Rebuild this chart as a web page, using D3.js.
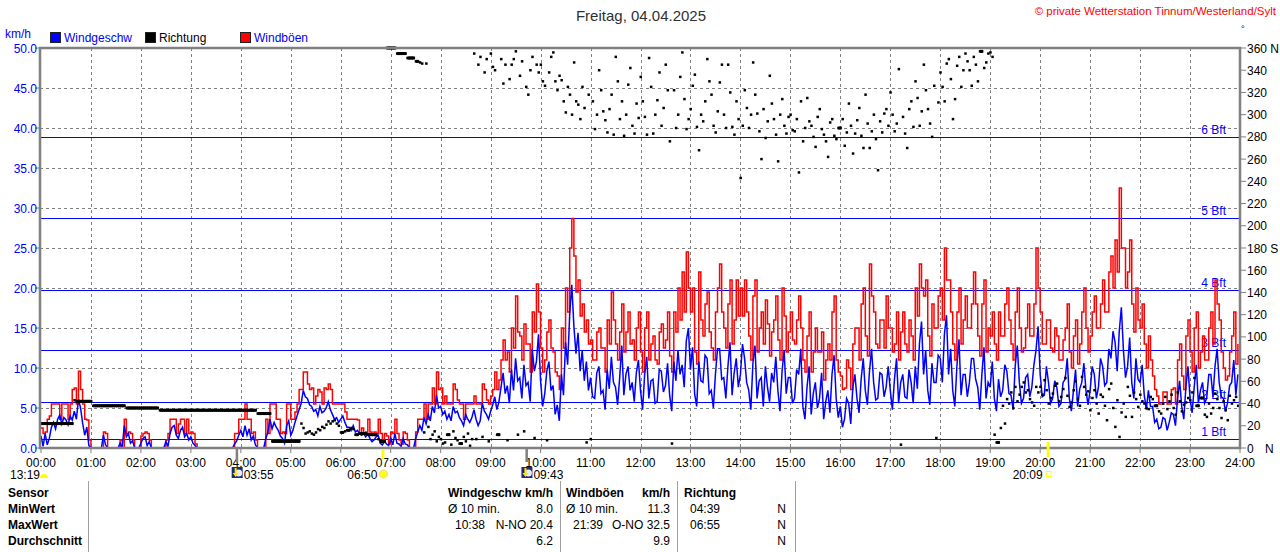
<!DOCTYPE html>
<html>
<head>
<meta charset="utf-8">
<script src="https://cdn.jsdelivr.net/npm/d3@7"></script>
<style>
  body { margin: 0; background: #fff; }
  svg { display: block; font-family: "Liberation Sans", Arial, sans-serif; }
</style>
</head>
<body>
<svg id="chart" width="1280" height="552"></svg>
<script>
// Values, one reading every 2.5 minutes (24 per hour)
var stepMin = 2.5;

var windSpeed = [
  1.5,0.2,1.8,0.4,1.2,2.6,3.2,2.4,3.6,4.1,3.0,3.8,3.5,2.9,4.0,3.5,4.6,3.6,6.1,5.0,3.1,1.6,2.6,0.3,   // 00
  0,0,0,0,0,0,1.6,0.4,0,0,0,0,0,0,0.6,0,2.8,1.4,1.8,0.6,0.9,0,0,0,                                 // 01
  0.6,1.2,1.4,0.3,0.8,0,0,0,0,0,0,0,0.8,0.2,1.8,2.6,2.8,1.6,1.2,2.2,2.6,1.4,1.8,1.0,               // 02
  1.4,0.6,0.3,0,0,0,0,0,0,0,0,0,0,0,0,0,0,0,0,0,0,0.5,0.9,1.6,                                     // 03
  2.2,1.4,2.8,1.6,2.4,1.0,1.5,0.4,0,0,0,0,1.2,2.0,3.6,2.4,3.2,2.6,2.2,1.5,1.2,0.6,2.8,3.4,         // 04
  1.6,2.2,3.2,4.0,4.8,5.6,7.2,6.4,6.2,5.4,5.2,4.6,4.8,4.0,5.2,4.4,4.6,5.0,5.8,4.8,4.2,3.6,3.8,3.2, // 05
  3.6,4.0,3.2,2.6,2.6,2.2,2.8,2.0,2.2,1.8,1.6,1.8,1.4,1.8,1.2,0.8,1.0,1.4,1.6,0.6,0.4,0.8,0.5,0.3, // 06
  1.2,0.4,1.8,0.6,0.5,0.2,1.2,0.5,0.4,0,0,0,1.2,2.0,2.8,2.2,3.8,3.0,4.2,3.4,5.2,4.4,6.6,5.0,       // 07
  5.2,4.2,4.6,3.6,4.2,3.4,5.2,4.4,4.6,3.8,3.4,2.8,4.2,3.6,3.2,3.8,4.8,3.6,2.8,3.4,5.6,4.6,4.2,3.6, // 08
  4.6,5.4,6.4,4.8,5.8,7.6,9.4,6.8,7.8,5.6,9.8,7.2,11.2,8.4,8.8,6.2,10.4,7.8,8.2,5.8,12.4,9.6,10.8,14.2,   // 09
  8.4,5.2,6.8,9.6,10.8,7.2,7.8,4.2,5.4,3.4,9.2,6.6,13.2,10.4,16.8,20.4,15.2,11.8,14.4,9.6,12.2,8.4,10.8,7.2, // 10
  8.8,6.4,6.2,9.4,10.2,6.8,7.2,4.8,9.8,7.4,11.4,8.2,7.6,5.4,8.8,12.8,6.6,9.2,10.2,7.2,8.2,5.8,9.4,11.0,     // 11
  7.2,4.8,9.2,11.4,6.2,8.4,8.6,5.6,5.8,9.8,9.6,7.0,7.8,10.6,6.6,4.6,10.8,8.4,12.2,9.2,10.4,7.6,13.4,15.0,   // 12
  9.8,12.6,6.8,5.2,10.8,8.4,8.2,11.6,11.2,6.8,7.2,5.0,9.2,12.4,12.4,8.6,8.8,6.2,10.2,13.2,6.6,9.4,11.2,7.6, // 13
  9.2,13.0,11.2,8.2,7.2,4.8,10.6,12.8,6.2,8.4,8.8,5.2,10.2,7.6,5.8,9.4,8.2,11.4,7.2,4.6,9.6,12.2,6.8,8.8,   // 14
  8.8,5.6,6.2,9.8,9.2,12.4,5.2,3.6,7.6,10.2,4.2,6.8,8.2,5.0,6.2,9.4,3.6,5.8,7.2,4.4,9.2,11.6,6.2,3.8,      // 15
  5.2,2.6,3.6,6.2,5.6,3.0,7.6,9.2,6.2,4.4,8.6,11.2,7.2,5.4,9.6,12.4,8.2,6.0,6.2,9.4,9.2,6.4,7.6,10.2,      // 16
  7.2,4.8,8.6,11.2,5.6,8.2,9.2,6.4,6.2,9.8,8.2,5.6,10.2,7.4,13.0,15.8,9.2,12.2,7.2,5.4,10.6,8.2,8.2,11.6,  // 17
  11.2,8.2,14.2,16.6,9.2,12.4,7.2,5.2,10.2,13.6,6.6,9.2,9.2,6.4,8.2,11.2,11.2,8.6,7.6,4.8,9.2,12.6,6.2,8.2, // 18
  7.6,10.8,6.2,4.6,8.6,6.4,7.2,10.4,9.6,6.8,6.6,4.8,10.2,12.8,8.2,5.6,6.2,8.8,9.2,6.4,7.6,10.4,12.2,15.2,  // 19
  9.2,6.4,6.6,10.2,8.2,5.6,6.2,8.4,7.6,5.2,5.6,8.2,8.6,11.2,6.2,4.6,7.2,9.8,5.2,7.4,8.2,10.6,7.2,5.4,      // 20
  7.2,10.2,9.2,6.2,7.6,11.2,10.2,7.8,8.2,12.4,11.2,14.6,13.2,9.6,14.6,17.6,12.2,8.8,10.2,13.8,8.2,6.2,11.2,8.6, // 21
  8.2,10.4,6.6,4.8,7.2,5.2,5.2,3.2,3.6,2.4,2.6,3.8,3.6,2.2,3.2,4.4,4.2,2.8,6.2,8.4,5.2,3.6,7.6,10.2,      // 22
  6.2,4.4,7.6,10.4,5.6,7.2,8.2,5.6,6.2,9.2,9.2,6.4,10.2,12.4,8.2,6.4,6.2,4.6,5.6,7.8,8.2,11.0,6.6,9.2     // 23
];

var windGust = [
  2.5,1.8,2.0,3.6,4.0,5.5,5.5,5.5,5.5,3.6,5.5,5.5,5.5,3.6,5.5,7.3,7.5,5.5,9.6,7.3,5.5,3.6,3.5,1.0,
  0,0,0,0,0,0,2.0,1.8,0,0,0,0,0,0,1.0,0,3.6,1.8,2.0,1.8,1.0,0,0,0,
  1.5,1.8,2.0,1.8,1.0,0,0,0,0,0,0,0,1.0,1.8,3.6,3.6,3.6,1.8,3.0,3.6,3.6,1.8,3.6,1.8,
  2.0,1.8,0.5,0,0,0,0,0,0,0,0,0,0,0,0,0,0,0,0,0,0,1.8,1.8,3.6,
  3.6,3.6,5.5,3.6,3.6,1.8,2.0,1.0,0,0,0,0,3.6,1.8,5.5,5.5,5.5,3.6,3.6,1.8,2.0,1.8,5.5,5.5,
  3.6,3.6,4.5,5.5,7.3,7.3,9.5,9.5,8.0,7.3,7.5,5.5,6.5,7.3,7.0,5.5,7.5,7.3,8.0,7.3,5.5,5.5,5.5,5.5,
  5.5,5.5,4.5,3.6,3.6,3.6,3.6,3.6,3.5,1.8,2.5,1.8,2.0,3.6,2.0,1.8,2.0,1.8,3.6,1.8,1.0,1.8,1.5,0.5,
  2.0,1.8,3.6,1.8,1.0,0.5,2.0,1.8,1.0,0,0,0,2.0,3.6,3.6,3.6,5.5,3.6,5.5,5.5,7.5,5.5,9.5,7.3,
  7.5,5.5,6.5,5.5,5.5,5.5,8.0,7.3,6.0,5.5,5.5,3.6,5.5,5.5,5.5,5.5,6.5,5.5,5.5,5.5,8.0,7.3,6.0,5.5,
  6.5,7.3,9.5,7.3,8.5,11.0,13.5,11.0,12.0,9.5,15.0,12.5,19.0,14.5,14.0,11.0,15.5,13.0,13.0,9.5,17.0,14.5,20.5,17.0,
  12.5,9.5,11.0,14.5,16.0,12.5,12.0,9.5,9.0,7.3,15.0,12.5,20.0,17.0,25.0,28.7,24.0,19.5,21.0,16.5,18.0,14.5,16.0,13.0,
  13.5,11.0,11.0,14.5,15.0,12.5,12.5,9.5,16.0,13.0,19.5,16.0,13.0,11.0,14.5,18.0,12.0,14.5,17.0,13.0,13.5,11.0,15.0,17.0,
  12.0,9.5,15.0,17.0,11.0,13.0,14.0,11.0,10.5,14.5,15.5,12.5,13.5,17.0,11.5,9.5,17.0,14.5,20.0,16.0,22.0,17.0,24.5,20.0,
  17.0,20.0,12.0,10.5,22.0,16.0,14.0,18.0,19.5,14.5,12.5,11.0,17.0,20.0,23.0,17.0,15.0,12.5,18.0,21.0,13.0,16.0,21.0,16.5,
  20.0,16.5,21.0,17.0,14.0,11.0,19.0,21.0,12.0,15.0,17.0,13.0,18.5,15.5,11.5,14.5,16.0,19.0,13.5,11.0,20.0,16.5,12.0,14.5,
  17.0,13.5,13.0,16.0,19.0,15.0,11.0,9.5,14.0,17.0,9.5,12.0,15.0,12.0,12.0,14.5,8.5,11.0,13.0,11.0,17.0,19.0,11.0,9.5,
  9.0,7.3,7.5,11.0,10.0,7.3,13.0,15.0,15.0,11.0,18.0,20.0,14.0,11.5,23.0,19.0,17.0,13.0,12.5,16.0,16.0,12.5,19.0,15.0,
  15.0,12.0,13.0,17.0,11.0,14.5,17.0,13.0,12.0,16.0,14.0,11.0,20.0,16.5,23.0,20.0,19.0,21.0,14.0,11.5,18.0,15.0,15.0,19.0,
  20.0,16.0,25.0,21.0,21.0,17.0,13.0,11.0,17.0,20.0,13.0,16.0,19.0,15.0,15.0,18.0,22.0,18.0,14.0,11.5,18.0,21.0,12.0,15.0,
  14.0,17.0,13.0,11.0,17.0,14.0,14.0,18.0,20.0,16.0,13.0,11.0,17.0,20.0,15.0,12.0,12.5,15.0,18.0,14.0,14.0,18.0,25.0,20.0,
  17.0,13.0,13.0,16.0,16.0,12.5,12.0,15.0,14.0,11.0,11.0,13.5,15.0,18.0,12.0,10.0,14.0,16.0,10.5,13.0,17.0,20.0,15.0,12.0,
  14.0,17.0,19.0,15.0,15.0,18.0,21.0,17.0,17.0,22.0,24.0,20.0,26.0,22.0,32.5,25.0,25.0,20.0,22.0,26.0,18.0,14.5,20.0,16.0,
  15.0,18.0,13.0,10.0,14.0,11.0,9.0,7.3,6.5,5.5,5.5,7.0,7.0,5.5,5.5,7.3,7.5,5.5,11.0,13.0,9.0,7.3,14.0,16.0,
  12.0,9.5,15.0,17.0,10.0,12.0,14.0,11.0,11.0,15.0,17.0,13.0,21.0,18.0,16.0,12.0,10.0,8.5,9.0,12.0,14.0,17.0,10.5,13.0
];

// wind direction in degrees
var windDir = [
  22,22,22,22,22,22,22,22,22,22,22,22,22,22,22,22,43,42,42,42,42,42,42,42,
  42,38,38,38,38,38,38,38,38,38,38,38,38,38,38,38,38,36,36,36,36,36,36,36,
  36,36,36,36,36,36,36,36,36,34,34,34,34,34,34,34,34,34,34,34,34,34,34,34,
  34,34,34,34,34,34,34,34,34,34,34,34,34,34,34,34,34,34,34,34,34,34,34,34,
  34,34,34,34,34,34,34,34,31,31,31,31,31,31,31,6,6,6,6,6,6,6,6,6,
  6,6,6,6,6,22,18,13,14,15,13,12,14,17,16,19,18,21,24,22,24,25,22,20,
  14,14,15,16,16,18,17,12,12,13,13,13,13,12,12,12,12,12,8,6,6,6,360,360,
  360,360,360,355,355,355,355,355,351,351,351,351,348,348,347,346,14,346,19,8,12,15,6,10,
  8,4,5,12,12,3,15,9,7,4,4,10,6,13,2,8,355,8,345,352,10,338,350,6,
  355,343,340,12,12,350,328,345,7,332,345,350,357,12,335,348,15,325,318,340,352,9,345,338,
  345,330,326,7,338,352,356,330,322,335,331,312,302,325,318,300,347,312,309,296,325,306,5,318,
  8,312,287,300,340,322,303,295,284,305,318,282,352,330,296,312,281,300,327,342,290,283,310,297,
  334,312,298,282,351,325,283,300,313,338,290,306,345,322,276,4,322,288,300,334,356,314,287,296,
  305,326,336,289,268,300,294,312,350,330,318,290,284,303,329,345,300,288,345,320,289,282,312,296,
  243,290,322,306,288,300,347,318,301,285,260,305,279,294,335,310,296,282,258,300,314,290,283,298,
  300,286,285,296,248,312,276,288,315,294,290,280,271,298,305,287,282,276,262,293,296,281,278,288,
  288,296,272,284,310,290,265,283,295,306,281,270,318,292,270,285,300,278,250,294,284,301,305,290,
  320,300,285,292,341,3,298,283,270,305,312,289,330,315,290,303,345,322,305,292,280,326,9,311,
  338,325,312,346,350,332,296,314,344,352,325,340,355,348,340,326,352,345,330,357,357,342,347,355,
  356,352,12,5,5,18,38,22,44,40,50,36,55,42,48,55,59,50,52,44,41,38,55,50,
  55,48,61,52,40,45,49,56,58,42,46,53,63,47,37,41,52,60,44,38,64,55,48,51,
  34,45,52,40,31,48,46,38,25,53,58,36,19,43,10,32,40,28,55,47,28,50,44,37,
  48,42,40,36,35,46,44,38,38,33,31,40,46,35,42,48,36,30,50,42,33,39,41,45,
  43,50,63,38,38,45,45,30,28,40,31,36,49,44,36,27,42,34,25,47,40,43,46,38
];

var hourLabels = ["00:00","01:00","02:00","03:00","04:00","05:00","06:00","07:00","08:00",
  "09:00","10:00","11:00","12:00","13:00","14:00","15:00","16:00","17:00","18:00",
  "19:00","20:00","21:00","22:00","23:00","24:00"];
var speedTicks = [0,5,10,15,20,25,30,35,40,45,50];
var dirTicks = [0,20,40,60,80,100,120,140,160,180,200,220,240,260,280,300,320,340,360];
var dirNames = {0: "N", 180: "S", 360: "N"};

// Beaufort limits in km/h
var bftLimits = [1.08, 5.76, 12.24, 19.8, 28.8, 38.88];
var bftNames = ["1 Bft","2 Bft","3 Bft","4 Bft","5 Bft","6 Bft"];

// moon / sun times (minutes after midnight)
var moonTimes = [{label: "03:55", min: 235}, {label: "09:43", min: 583}];
var sunTimes = [{label: "06:50", min: 410}, {label: "20:09", min: 1209}];

var rowNames = ["Sensor","MinWert","MaxWert","Durchschnitt"];
var speedStats = [["Ø 10 min.","8.0"],["10:38","N-NO 20.4"],["","6.2"]];
var gustStats = [["Ø 10 min.","11.3"],["21:39","O-NO 32.5"],["","9.9"]];
var dirStats = [["04:39","N"],["06:55","N"],["","N"]];

var svg = d3.select("#chart");
var plotL = 40, plotR = 1240, plotT = 48, plotB = 448;

var x = d3.scaleLinear().domain([0, 1440]).range([plotL + 1, plotR]);
var y = d3.scaleLinear().domain([0, 50]).range([plotB, plotT]);
var yDir = d3.scaleLinear().domain([0, 360]).range([plotB, plotT]);

var grey = "#808080";

// Title and header texts
svg.append("text").attr("x", 641).attr("y", 21).attr("text-anchor", "middle")
  .attr("font-size", 15).attr("fill", "#303030").text("Freitag, 04.04.2025");
svg.append("text").attr("x", 1276).attr("y", 15).attr("text-anchor", "end")
  .attr("font-size", 11.5).attr("fill", "#ff0000").text("© private Wetterstation Tinnum/Westerland/Sylt");
svg.append("text").attr("x", 1241).attr("y", 32).attr("font-size", 9).attr("fill", "#000").text("°");
svg.append("text").attr("x", 5).attr("y", 38).attr("font-size", 12).attr("fill", "#0000ff").text("km/h");

// Legend
var legend = [
  {x: 50, color: "#0000ff", text: "Windgeschw", textColor: "#0000ff"},
  {x: 145, color: "#000000", text: "Richtung", textColor: "#000000"},
  {x: 240, color: "#ff0000", text: "Windböen", textColor: "#0000ff"}
];
legend.forEach(function (d) {
  svg.append("rect").attr("x", d.x + 0.5).attr("y", 32.5).attr("width", 10).attr("height", 10)
    .attr("fill", d.color).attr("stroke", "#202020");
  svg.append("text").attr("x", d.x + 14).attr("y", 42).attr("font-size", 12)
    .attr("fill", d.textColor).text(d.text);
});

// Grid
var grid = svg.append("g").attr("stroke", grey).attr("stroke-dasharray", "3,3").attr("stroke-width", 1);
speedTicks.slice(1, -1).forEach(function (v) {
  grid.append("line").attr("x1", plotL).attr("x2", plotR).attr("y1", Math.round(y(v)) + 0.5).attr("y2", Math.round(y(v)) + 0.5);
});
hourLabels.slice(1, -1).forEach(function (h, i) {
  var xx = Math.round(x((i + 1) * 60)) + 0.5;
  grid.append("line").attr("x1", xx).attr("x2", xx).attr("y1", plotT).attr("y2", plotB);
});

// Beaufort lines
var bft = svg.append("g");
bftLimits.forEach(function (v, i) {
  var yy = Math.round(y(v)) + 0.5;
  bft.append("line").attr("x1", plotL).attr("x2", plotR).attr("y1", yy).attr("y2", yy)
    .attr("stroke", "#0000ff").attr("stroke-width", 1);
  bft.append("text").attr("x", 1226).attr("y", yy - 4).attr("text-anchor", "end")
    .attr("font-size", 12).attr("fill", "#0000ff").text(bftNames[i]);
});

// Data area
svg.append("clipPath").attr("id", "plot").append("rect")
  .attr("x", plotL).attr("y", plotT - 2).attr("width", plotR - plotL).attr("height", plotB - plotT + 2);
var plot = svg.append("g").attr("clip-path", "url(#plot)");

var gustLine = d3.line()
  .x(function (d, i) { return x(i * stepMin); })
  .y(function (d) { return y(d); })
  .curve(d3.curveStepAfter);
var speedLine = d3.line()
  .x(function (d, i) { return x(i * stepMin); })
  .y(function (d) { return y(d); });

plot.append("path").datum(windGust).attr("d", gustLine)
  .attr("fill", "none").attr("stroke", "#ff0000").attr("stroke-width", 1.5);
plot.append("path").datum(windSpeed).attr("d", speedLine)
  .attr("fill", "none").attr("stroke", "#0000ff").attr("stroke-width", 1.5);

// Direction: dots, with bars where the value did not change
windDir.forEach(function (d, i) {
  if (i < windDir.length - 1 && windDir[i + 1] === d) {
    plot.append("rect").attr("x", x(i * stepMin)).attr("y", yDir(d) - 1.5)
      .attr("width", x((i + 1) * stepMin) - x(i * stepMin) + 1).attr("height", 3).attr("fill", "#000");
  }
  plot.append("rect").attr("x", x(i * stepMin) - 1).attr("y", yDir(d) - 1.25)
    .attr("width", 2.5).attr("height", 2.5).attr("fill", "#000");
});

// Frame
var frame = svg.append("g").attr("stroke", grey).attr("stroke-width", 2.5).attr("fill", "none");
frame.append("path").attr("d", "M" + plotL + "," + plotT + "H" + plotR + "V" + plotB + "H" + plotL + "Z");

// Left axis (km/h)
speedTicks.forEach(function (v) {
  svg.append("line").attr("x1", 35).attr("x2", plotL).attr("y1", y(v)).attr("y2", y(v))
    .attr("stroke", grey).attr("stroke-width", 1);
  svg.append("text").attr("x", 37).attr("y", y(v) + 4.5).attr("text-anchor", "end")
    .attr("font-size", 12).attr("fill", "#0000ff").text(v.toFixed(1));
});

// Right axis (degrees)
dirTicks.forEach(function (v) {
  svg.append("line").attr("x1", plotR).attr("x2", plotR + 6).attr("y1", yDir(v)).attr("y2", yDir(v))
    .attr("stroke", grey).attr("stroke-width", 1);
  svg.append("text").attr("x", plotR + 7).attr("y", yDir(v) + 4.5)
    .attr("font-size", 12).attr("fill", "#000").text(v === 0 ? "0" : v + (dirNames[v] ? " " + dirNames[v] : ""));
});
svg.append("text").attr("x", 1265).attr("y", plotB + 4.5).attr("font-size", 12).attr("fill", "#000").text("N");

// Time axis
hourLabels.forEach(function (h, i) {
  var xx = x(i * 60);
  svg.append("line").attr("x1", xx).attr("x2", xx).attr("y1", plotB).attr("y2", plotB + 5)
    .attr("stroke", grey).attr("stroke-width", 1);
  svg.append("text").attr("x", xx).attr("y", 467).attr("text-anchor", "middle")
    .attr("font-size", 12).attr("fill", "#000").text(h);
});

// Moon markers
moonTimes.forEach(function (m) {
  var xx = x(m.min);
  svg.append("rect").attr("x", xx - 1).attr("y", 449).attr("width", 2.5).attr("height", 13).attr("fill", grey);
  svg.append("rect").attr("x", xx - 5).attr("y", 467).attr("width", 11).attr("height", 11).attr("fill", "#1c2a78");
  svg.append("circle").attr("cx", xx + 2).attr("cy", 473).attr("r", 3.5).attr("fill", "#e8eef8");
  svg.append("path").attr("d", "M" + (xx - 2) + ",468v5h-2l3,4l3,-4h-2v-5z").attr("fill", "#ffe600");
  svg.append("text").attr("x", xx + 7).attr("y", 479).attr("font-size", 12).attr("fill", "#000").text(m.label);
});

// Sun markers
sunTimes.forEach(function (s, i) {
  var xx = x(s.min);
  svg.append("rect").attr("x", xx - 1).attr("y", i === 0 ? 449 : 442).attr("width", 3)
    .attr("height", i === 0 ? 10 : 15).attr("fill", "#ffff00");
  svg.append("text").attr("x", xx - 5).attr("y", 479).attr("text-anchor", "end")
    .attr("font-size", 12).attr("fill", "#000").text(s.label);
  if (i === 0) {
    svg.append("circle").attr("cx", xx + 1).attr("cy", 474).attr("r", 4).attr("fill", "#ffff00")
      .attr("stroke", "#f0e68c").attr("stroke-width", 1.5);
  } else {
    svg.append("rect").attr("x", xx - 1.5).attr("y", 471.5).attr("width", 5).attr("height", 5)
      .attr("fill", "none").attr("stroke", "#ffff00").attr("stroke-width", 1);
  }
});
svg.append("text").attr("x", 10).attr("y", 479).attr("font-size", 12).attr("fill", "#000").text("13:19");
svg.append("path").attr("d", "M40,478a4,4 0 0,1 8,0z").attr("fill", "#ffff00");

// Stats table
[88, 560, 677, 795].forEach(function (xx) {
  svg.append("line").attr("x1", xx + 0.5).attr("x2", xx + 0.5).attr("y1", 481).attr("y2", 552)
    .attr("stroke", "#a0a0a0").attr("stroke-width", 1);
});
var rowY = [497, 513, 529, 545];
rowNames.forEach(function (r, i) {
  svg.append("text").attr("x", 8).attr("y", rowY[i]).attr("font-size", 12).attr("font-weight", "bold")
    .attr("fill", "#000").text(r);
});

function statColumn(head, unit, x0, xr, rows, indent) {
  svg.append("text").attr("x", x0).attr("y", rowY[0]).attr("font-size", 12).attr("font-weight", "bold").text(head);
  if (unit) {
    svg.append("text").attr("x", xr).attr("y", rowY[0]).attr("text-anchor", "end")
      .attr("font-size", 12).attr("font-weight", "bold").text(unit);
  }
  rows.forEach(function (r, i) {
    var first = r[0];
    svg.append("text").attr("x", first.charAt(0) === "Ø" ? x0 : x0 + indent).attr("y", rowY[i + 1])
      .attr("font-size", 12).text(first);
    svg.append("text").attr("x", xr).attr("y", rowY[i + 1]).attr("text-anchor", "end")
      .attr("font-size", 12).text(r[1]);
  });
}
statColumn("Windgeschw", "km/h", 448, 553, speedStats, 7);
statColumn("Windböen", "km/h", 566, 670, gustStats, 7);
statColumn("Richtung", null, 684, 786, dirStats, 6);
</script>
</body>
</html>
